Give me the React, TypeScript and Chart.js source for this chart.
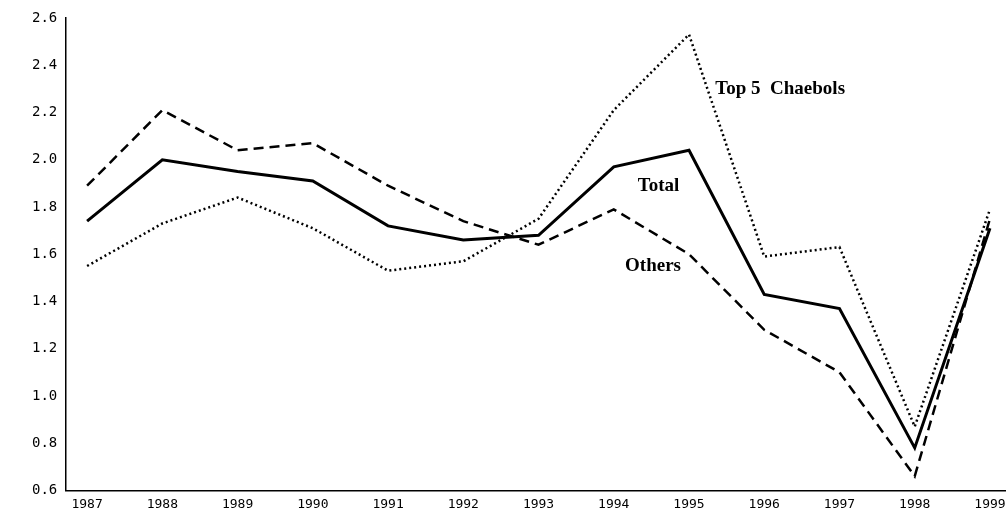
import React, { useEffect, useRef } from "react";
import { Chart, registerables } from "chart.js";
Chart.register(...registerables);

const years = [1987, 1988, 1989, 1990, 1991, 1992, 1993, 1994, 1995, 1996, 1997, 1998, 1999];
const total = [1.74, 2.0, 1.95, 1.91, 1.72, 1.66, 1.68, 1.97, 2.04, 1.43, 1.37, 0.78, 1.71];
const others = [1.89, 2.21, 2.04, 2.07, 1.89, 1.74, 1.64, 1.79, 1.6, 1.28, 1.1, 0.66, 1.75];
const top5 = [1.55, 1.73, 1.84, 1.71, 1.53, 1.57, 1.75, 2.21, 2.53, 1.59, 1.63, 0.87, 1.79];
const labels = [
  { text: "Top 5  Chaebols", x: 1995.35, y: 2.3 },
  { text: "Total", x: 1994.32, y: 1.89 },
  { text: "Others", x: 1994.15, y: 1.55 },
];

const labelPlugin = {
  id: "lbl",
  afterDatasetsDraw(chart: any) {
    const { ctx, scales } = chart;
    ctx.save();
    ctx.fillStyle = "#000";
    ctx.font = "bold 19px 'Liberation Serif'";
    ctx.textBaseline = "middle";
    for (const l of labels) ctx.fillText(l.text, scales.x.getPixelForValue(l.x), scales.y.getPixelForValue(l.y));
    ctx.restore();
  },
};

export default function App() {
  const ref = useRef<HTMLCanvasElement>(null);
  useEffect(() => {
    document.body.style.margin = "0";
    const mk = (d: number[], w: number, dash: number[]) => ({
      data: d.map((v, i) => ({ x: years[i], y: v })),
      borderColor: "#000", borderWidth: w, borderDash: dash, pointRadius: 0, tension: 0,
    });
    const c = new Chart(ref.current!, {
      type: "line",
      data: { datasets: [mk(total, 3, []), mk(others, 2.5, [10, 6]), mk(top5, 2.5, [2, 3])] },
      options: {
        animation: false, responsive: false,
        layout: { padding: { top: 18, right: 3, bottom: 0, left: 29 } },
        plugins: { legend: { display: false }, tooltip: { enabled: false } },
        scales: {
          x: {
            type: "linear", min: 1986.71, max: 1999.2,
            afterBuildTicks: (s: any) => { s.ticks = years.map((v) => ({ value: v })); },
            ticks: { color: "#000", padding: 1, font: { family: "DejaVu Sans Mono", size: 13 }, callback: (v: any) => String(v), maxRotation: 0, autoSkip: false },
            grid: { display: false, drawTicks: true, tickLength: 5, tickColor: "#000" },
            border: { color: "#000", width: 1.5 },
          },
          y: {
            min: 0.6, max: 2.6,
            ticks: { stepSize: 0.2, color: "#000", font: { family: "DejaVu Sans Mono", size: 14 }, callback: (v: any) => Number(v).toFixed(1) },
            grid: { display: false, tickLength: 5, tickColor: "#000" },
            border: { color: "#000", width: 1.5 },
          },
        },
      },
      plugins: [labelPlugin],
    });
    return () => c.destroy();
  }, []);
  return <canvas ref={ref} width={1008} height={513} />;
}
